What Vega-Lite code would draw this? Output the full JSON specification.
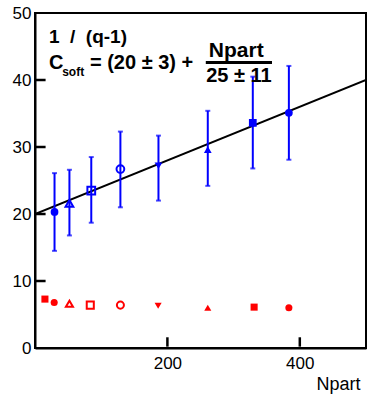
{
  "$schema": "https://vega.github.io/schema/vega-lite/v6.json",
  "width": 331,
  "height": 335,
  "autosize": {"type": "none"},
  "padding": {"left": 35, "top": 13, "right": 2, "bottom": 46},
  "background": "#ffffff",
  "config": {
    "view": {"stroke": "#000000", "strokeWidth": 2, "fill": "#ffffff"},
    "axis": {
      "grid": false,
      "domainColor": "#000000",
      "domainWidth": 2,
      "ticks": false,
      "labelFont": "Liberation Sans",
      "labelFontSize": 17,
      "labelColor": "#000000",
      "titleFont": "Liberation Sans",
      "titleFontWeight": "normal",
      "titleColor": "#000000"
    }
  },
  "datasets": {
    "pts": [
      {"Npart": 29.5, "val": 20.3, "lo": 14.5, "hi": 26.1, "set": "s1", "kind": "1/(q-1)"},
      {"Npart": 52, "val": 21.6, "lo": 16.8, "hi": 26.6, "set": "s2", "kind": "1/(q-1)"},
      {"Npart": 85, "val": 23.5, "lo": 18.7, "hi": 28.5, "set": "s3", "kind": "1/(q-1)"},
      {"Npart": 129, "val": 26.7, "lo": 21.0, "hi": 32.3, "set": "s4", "kind": "1/(q-1)"},
      {"Npart": 186.5, "val": 27.2, "lo": 22.0, "hi": 31.7, "set": "s5", "kind": "1/(q-1)"},
      {"Npart": 261, "val": 29.6, "lo": 24.2, "hi": 35.4, "set": "s6", "kind": "1/(q-1)"},
      {"Npart": 329, "val": 33.6, "lo": 26.8, "hi": 40.5, "set": "s7", "kind": "1/(q-1)"},
      {"Npart": 383.5, "val": 35.1, "lo": 28.1, "hi": 42.1, "set": "s8", "kind": "1/(q-1)"},
      {"Npart": 15, "val": 7.3, "set": "s0", "kind": "ref"},
      {"Npart": 29, "val": 6.8, "set": "s1", "kind": "ref"},
      {"Npart": 52, "val": 6.6, "set": "s2", "kind": "ref"},
      {"Npart": 83.5, "val": 6.4, "set": "s3", "kind": "ref"},
      {"Npart": 129, "val": 6.4, "set": "s4", "kind": "ref"},
      {"Npart": 186, "val": 6.3, "set": "s5", "kind": "ref"},
      {"Npart": 261, "val": 6.0, "set": "s6", "kind": "ref"},
      {"Npart": 331, "val": 6.1, "set": "s7", "kind": "ref"},
      {"Npart": 383.5, "val": 6.0, "set": "s8", "kind": "ref"}
    ],
    "fit": [
      {"Npart": 0, "val": 20},
      {"Npart": 500, "val": 40}
    ],
    "xtk": [{"Npart": 200, "from": 0.2, "to": 1.6}, {"Npart": 400, "from": 0.2, "to": 1.6}],
    "ytk": [{"val": 10, "from": 1, "to": 16}, {"val": 20, "from": 1, "to": 16}, {"val": 30, "from": 1, "to": 16}, {"val": 40, "from": 1, "to": 16}],
    "one": [{}]
  },
  "layer": [
    {
      "data": {"name": "fit"},
      "mark": {"type": "line", "color": "#000000", "strokeWidth": 2, "clip": true},
      "encoding": {
        "x": {"field": "Npart", "type": "quantitative", "scale": {"domain": [0, 500], "nice": false, "zero": false},
              "axis": {"orient": "bottom", "values": [200, 400], "title": "Npart", "titleFontSize": 18, "titleAnchor": "end", "titleAlign": "right", "titleBaseline": "alphabetic", "titleX": 325, "titleY": 41, "labelPadding": 7, "labelFlush": false}},
        "y": {"field": "val", "type": "quantitative", "scale": {"domain": [0, 50], "nice": false},
              "axis": {"orient": "left", "values": [0, 10, 20, 30, 40, 50], "title": null, "labelPadding": 4, "labelFlush": false}}
      }
    },
    {
      "data": {"name": "pts"},
      "transform": [{"filter": "datum.kind === '1/(q-1)'"}],
      "mark": {"type": "rule", "color": "#0000ff", "strokeWidth": 2},
      "encoding": {
        "x": {"field": "Npart", "type": "quantitative"},
        "y": {"field": "lo", "type": "quantitative"},
        "y2": {"field": "hi"}
      }
    },
    {
      "data": {"name": "pts"},
      "transform": [{"filter": "datum.kind === '1/(q-1)'"}],
      "mark": {"type": "tick", "orient": "horizontal", "color": "#0000ff", "size": 5, "thickness": 2},
      "encoding": {
        "x": {"field": "Npart", "type": "quantitative"},
        "y": {"field": "lo", "type": "quantitative"}
      }
    },
    {
      "data": {"name": "pts"},
      "transform": [{"filter": "datum.kind === '1/(q-1)'"}],
      "mark": {"type": "tick", "orient": "horizontal", "color": "#0000ff", "size": 5, "thickness": 2},
      "encoding": {
        "x": {"field": "Npart", "type": "quantitative"},
        "y": {"field": "hi", "type": "quantitative"}
      }
    },
    {
      "data": {"name": "pts"},
      "transform": [{"filter": "indexof(['s2','s3','s4'], datum.set) < 0"}],
      "mark": {"type": "point", "filled": true, "opacity": 1},
      "encoding": {
        "x": {"field": "Npart", "type": "quantitative"},
        "y": {"field": "val", "type": "quantitative"},
        "shape": {"field": "set", "type": "nominal", "legend": null,
                  "scale": {"domain": ["s0", "s1", "s2", "s3", "s4", "s5", "s6", "s7", "s8"],
                            "range": ["square", "circle", "triangle-up", "square", "circle", "triangle-down", "triangle-up", "square", "circle"]}},
        "color": {"field": "kind", "type": "nominal", "legend": null,
                 "scale": {"domain": ["1/(q-1)", "ref"], "range": ["#0000ff", "#ff0000"]}},
        "size": {"field": "kind", "type": "nominal", "legend": null,
                 "scale": {"domain": ["1/(q-1)", "ref"], "range": [60, 50]}}
      }
    },
    {
      "data": {"name": "pts"},
      "transform": [{"filter": "indexof(['s2','s3','s4'], datum.set) >= 0"}],
      "mark": {"type": "point", "filled": false, "strokeWidth": 2, "opacity": 1},
      "encoding": {
        "x": {"field": "Npart", "type": "quantitative"},
        "y": {"field": "val", "type": "quantitative"},
        "shape": {"field": "set", "type": "nominal", "legend": null},
        "color": {"field": "kind", "type": "nominal", "legend": null},
        "size": {"field": "kind", "type": "nominal", "legend": null,
                 "scale": {"domain": ["1/(q-1)", "ref"], "range": [45, 38]}}
      }
    },
    {
      "data": {"name": "one"},
      "mark": {"type": "text", "font": "Liberation Sans", "fontWeight": "bold", "fontSize": 19, "align": "left", "baseline": "alphabetic", "color": "#000000"},
      "encoding": {
        "x": {"datum": 21, "type": "quantitative"},
        "y": {"datum": 45.5, "type": "quantitative"},
        "text": {"value": "1\u00a0\u00a0/\u00a0\u00a0(q-1)"}
      }
    },
    {
      "data": {"name": "one"},
      "mark": {"type": "text", "font": "Liberation Sans", "fontWeight": "bold", "fontSize": 20, "align": "left", "baseline": "alphabetic", "color": "#000000"},
      "encoding": {
        "x": {"datum": 21, "type": "quantitative"},
        "y": {"datum": 41.7, "type": "quantitative"},
        "text": {"value": "C"}
      }
    },
    {
      "data": {"name": "one"},
      "mark": {"type": "text", "font": "Liberation Sans", "fontWeight": "bold", "fontSize": 12, "align": "left", "baseline": "alphabetic", "color": "#000000"},
      "encoding": {
        "x": {"datum": 41, "type": "quantitative"},
        "y": {"datum": 40.6, "type": "quantitative"},
        "text": {"value": "soft"}
      }
    },
    {
      "data": {"name": "one"},
      "mark": {"type": "text", "font": "Liberation Sans", "fontWeight": "bold", "fontSize": 20, "align": "left", "baseline": "alphabetic", "color": "#000000"},
      "encoding": {
        "x": {"datum": 83, "type": "quantitative"},
        "y": {"datum": 41.7, "type": "quantitative"},
        "text": {"value": "= (20 ± 3) +"}
      }
    },
    {
      "data": {"name": "one"},
      "mark": {"type": "text", "font": "Liberation Sans", "fontWeight": "bold", "fontSize": 21, "align": "center", "baseline": "alphabetic", "color": "#000000"},
      "encoding": {
        "x": {"datum": 304, "type": "quantitative"},
        "y": {"datum": 43.5, "type": "quantitative"},
        "text": {"value": "Npart"}
      }
    },
    {
      "data": {"name": "one"},
      "mark": {"type": "rule", "color": "#000000", "strokeWidth": 3},
      "encoding": {
        "x": {"datum": 258, "type": "quantitative"},
        "x2": {"datum": 358},
        "y": {"datum": 42.6, "type": "quantitative"}
      }
    },
    {
      "data": {"name": "one"},
      "mark": {"type": "text", "font": "Liberation Sans", "fontWeight": "bold", "fontSize": 20, "align": "center", "baseline": "alphabetic", "color": "#000000"},
      "encoding": {
        "x": {"datum": 308, "type": "quantitative"},
        "y": {"datum": 39.7, "type": "quantitative"},
        "text": {"value": "25 ± 11"}
      }
    },
    {
      "data": {"name": "xtk"},
      "mark": {"type": "rule", "stroke": "#000000", "strokeWidth": 2.5},
      "encoding": {
        "x": {"field": "Npart", "type": "quantitative"},
        "y": {"field": "from", "type": "quantitative"},
        "y2": {"field": "to"}
      }
    },
    {
      "data": {"name": "ytk"},
      "mark": {"type": "rule", "stroke": "#000000", "strokeWidth": 2.5},
      "encoding": {
        "x": {"field": "from", "type": "quantitative"},
        "x2": {"field": "to"},
        "y": {"field": "val", "type": "quantitative"}
      }
    }
  ]
}
